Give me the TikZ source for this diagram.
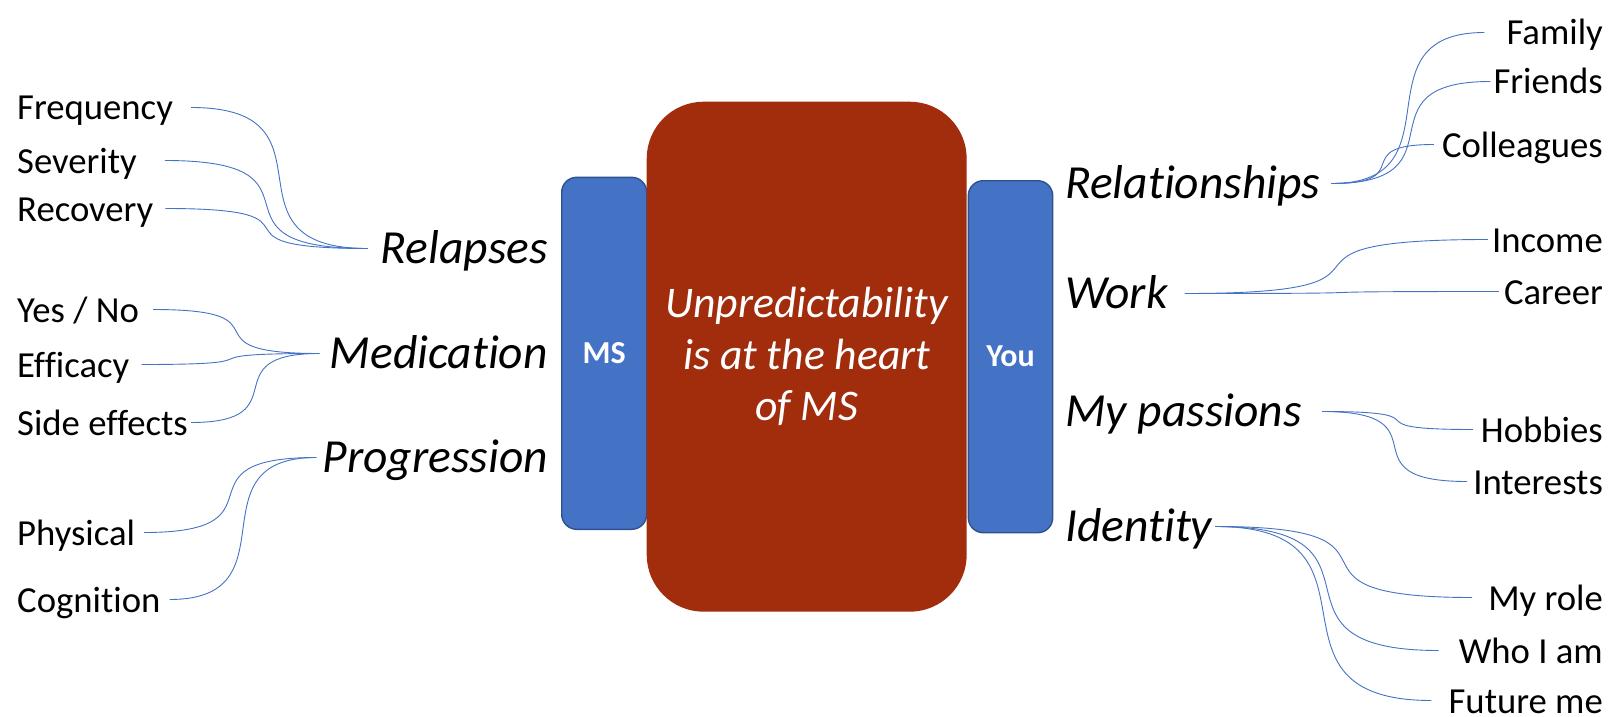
\documentclass[tikz,border=0pt]{standalone}
\usepackage{fontspec}
\setmainfont[Ligatures=NoCommon]{Carlito}
\definecolor{heart}{RGB}{161,45,13}
\definecolor{sidefill}{HTML}{4472C4}
\definecolor{sideedge}{HTML}{2F528F}
\definecolor{linkblue}{HTML}{4472C4}
\begin{document}
\begin{tikzpicture}[x=1pt,y=-1pt,
  leaf/.style={inner sep=0pt, font=\fontsize{36.7}{40}\selectfont, text height=25pt, text depth=0pt},
  topic/.style={inner sep=0pt, font=\fontsize{47.5}{52}\selectfont\itshape, text height=29pt, text depth=0pt},
  sidebox/.style={draw=sideedge, line width=1.4pt, fill=sidefill, rounded corners=15pt,
    text=white, font=\fontsize{32}{36}\selectfont\bfseries, inner sep=0pt},
  link/.style={draw=linkblue, line width=0.9pt}]
\useasboundingbox (0,0) rectangle (1610,717);

% side bars and central block
\node[sidebox, minimum width=85pt, minimum height=352pt] (ms) at (604.2,353.3) {MS};
\node[sidebox, minimum width=84.4pt, minimum height=352pt] (you) at (1010.5,356.7) {You};
\node[fill=heart, rounded corners=57pt, minimum width=320pt, minimum height=510pt,
  text=white, align=center, font=\fontsize{43.7}{51.6}\selectfont\itshape] (core) at (806.7,356.7)
  {Unpredictability\\is at the heart\\of MS};

% left branch topics
\node[topic, anchor=base east] (relapses) at (548,263) {Relapses};
\node[topic, anchor=base east] (medication) at (548,368) {Medication};
\node[topic, anchor=base east] (progression) at (548,472) {Progression};

% left leaves
\node[leaf, anchor=base west] (freq) at (17,120) {Frequency};
\node[leaf, anchor=base west] (sev) at (17,173) {Severity};
\node[leaf, anchor=base west] (rec) at (17,221) {Recovery};
\node[leaf, anchor=base west] (yesno) at (17,322) {Yes / No};
\node[leaf, anchor=base west] (eff) at (17,377) {Efficacy};
\node[leaf, anchor=base west] (sidefx) at (17,435) {Side effects};
\node[leaf, anchor=base west] (phys) at (17,545) {Physical};
\node[leaf, anchor=base west] (cog) at (17,612) {Cognition};

% right branch topics
\node[topic, anchor=base west] (relations) at (1065,198) {Relationships};
\node[topic, anchor=base west] (work) at (1065,308) {Work};
\node[topic, anchor=base west] (passions) at (1065,426) {My passions};
\node[topic, anchor=base west] (identity) at (1065,541) {Identity};

% right leaves
\node[leaf, anchor=base east] (family) at (1603,45) {Family};
\node[leaf, anchor=base east] (friends) at (1603,94) {Friends};
\node[leaf, anchor=base east] (colleagues) at (1603,157) {Colleagues};
\node[leaf, anchor=base east] (income) at (1603,252) {Income};
\node[leaf, anchor=base east] (career) at (1603,304) {Career};
\node[leaf, anchor=base east] (hobbies) at (1603,442) {Hobbies};
\node[leaf, anchor=base east] (interests) at (1603,494) {Interests};
\node[leaf, anchor=base east] (role) at (1603,610) {My role};
\node[leaf, anchor=base east] (whoiam) at (1603,663) {Who I am};
\node[leaf, anchor=base east] (future) at (1603,713) {Future me};

% left connectors
\draw[link] ([xshift=18pt]freq.east) .. controls +(155,0) and +(-155,0) .. ([xshift=-13pt]relapses.west);
\draw[link] ([xshift=28pt]sev.east) .. controls +(177,0) and +(-177,0) .. ([xshift=-13pt]relapses.west);
\draw[link] ([xshift=12pt]rec.east) .. controls +(177,0) and +(-177,0) .. ([xshift=-13pt]relapses.west);
\draw[link] ([xshift=14pt]yesno.east) .. controls +(143,0) and +(-143,0) .. ([xshift=-10pt]medication.west);
\draw[link] ([xshift=12pt]eff.east) .. controls +(151,0) and +(-151,0) .. ([xshift=-10pt]medication.west);
\draw[link] ([xshift=3pt]sidefx.east) .. controls +(110,0) and +(-110,0) .. ([xshift=-10pt]medication.west);
\draw[link] ([xshift=9pt]phys.east) .. controls +(148,0) and +(-148,0) .. ([xshift=-6pt]progression.west);
\draw[link] ([xshift=9pt]cog.east) .. controls +(127,0) and +(-127,0) .. ([xshift=-6pt]progression.west);

% right connectors
\draw[link] ([xshift=11pt]relations.east) .. controls +(131,0) and +(-131,0) .. ([xshift=-22pt]family.west);
\draw[link] ([xshift=11pt]relations.east) .. controls +(137,0) and +(-137,0) .. ([xshift=-3pt]friends.west);
\draw[link] ([xshift=11pt]relations.east) .. controls +(88,0) and +(-88,0) .. ([xshift=-8pt]colleagues.west);
\draw[link] ([xshift=17pt]work.east) .. controls +(259,0) and +(-259,0) .. ([xshift=-4pt]income.west);
\draw[link] ([xshift=17pt]work.east) .. controls +(260,0) and +(-260,0) .. ([xshift=-5pt]career.west);
\draw[link] ([xshift=20pt]passions.east) .. controls +(132,0) and +(-132,0) .. ([xshift=-8pt]hobbies.west);
\draw[link] ([xshift=20pt]passions.east) .. controls +(128,0) and +(-128,0) .. ([xshift=-6pt]interests.west);
\draw[link] ([xshift=3pt]identity.east) .. controls +(220,0) and +(-220,0) .. ([xshift=-16pt]role.west);
\draw[link] ([xshift=3pt]identity.east) .. controls +(192,0) and +(-192,0) .. ([xshift=-20pt]whoiam.west);
\draw[link] ([xshift=3pt]identity.east) .. controls +(185,0) and +(-185,0) .. ([xshift=-17pt]future.west);
\end{tikzpicture}
\end{document}
